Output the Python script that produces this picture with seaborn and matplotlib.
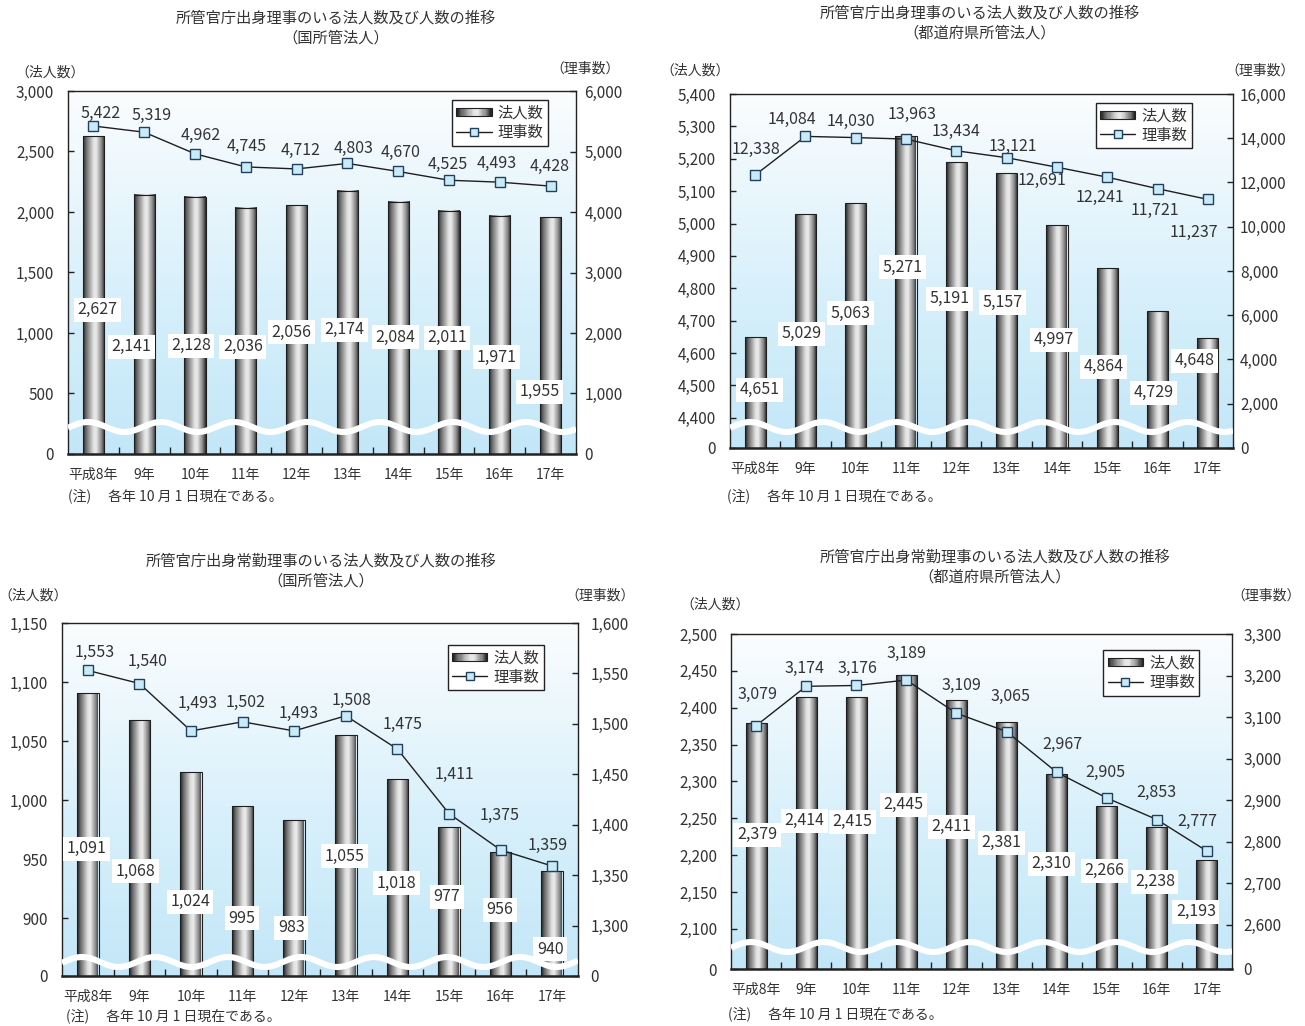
import numpy as np
import matplotlib
matplotlib.use("Agg")
import matplotlib.pyplot as plt
import seaborn as sns
from matplotlib.legend_handler import HandlerBase
from matplotlib.patches import Rectangle
from matplotlib.lines import Line2D
from matplotlib.colors import LinearSegmentedColormap
from matplotlib.ticker import FixedLocator, FuncFormatter

# ---------------- data ----------------
years = ['平成8年', '9年', '10年', '11年', '12年', '13年', '14年', '15年', '16年', '17年']

corp_national = [2627, 2141, 2128, 2036, 2056, 2174, 2084, 2011, 1971, 1955]
dir_national = [5422, 5319, 4962, 4745, 4712, 4803, 4670, 4525, 4493, 4428]

corp_pref = [4651, 5029, 5063, 5271, 5191, 5157, 4997, 4864, 4729, 4648]
dir_pref = [12338, 14084, 14030, 13963, 13434, 13121, 12691, 12241, 11721, 11237]

corp_national_ft = [1091, 1068, 1024, 995, 983, 1055, 1018, 977, 956, 940]
dir_national_ft = [1553, 1540, 1493, 1502, 1493, 1508, 1475, 1411, 1375, 1359]

corp_pref_ft = [2379, 2414, 2415, 2445, 2411, 2381, 2310, 2266, 2238, 2193]
dir_pref_ft = [3079, 3174, 3176, 3189, 3109, 3065, 2967, 2905, 2853, 2777]

left_ticks_1 = [0, 500, 1000, 1500, 2000, 2500, 3000]
right_ticks_1 = [0, 1000, 2000, 3000, 4000, 5000, 6000]
left_ticks_2 = [0, 4400, 4500, 4600, 4700, 4800, 4900, 5000, 5100, 5200, 5300, 5400]
right_ticks_2 = [0, 2000, 4000, 6000, 8000, 10000, 12000, 14000, 16000]
left_ticks_3 = [0, 900, 950, 1000, 1050, 1100, 1150]
right_ticks_3 = [0, 1300, 1350, 1400, 1450, 1500, 1550, 1600]
left_ticks_4 = [0, 2100, 2150, 2200, 2250, 2300, 2350, 2400, 2450, 2500]
right_ticks_4 = [0, 2600, 2700, 2800, 2900, 3000, 3100, 3200, 3300]

title_main_1 = '所管官庁出身理事のいる法人数及び人数の推移'
title_main_2 = '所管官庁出身常勤理事のいる法人数及び人数の推移'
sub_national = '（国所管法人）'
sub_pref = '（都道府県所管法人）'
legend_labels = ['法人数', '理事数']
note_text = '(注)　 各年 10 月 1 日現在である。'
unit_left = '（法人数）'
unit_right = '（理事数）'

# ---------------- style ----------------
sns.set_style('white')
plt.rcParams['font.family'] = ['Noto Sans CJK JP', 'DejaVu Sans']
TXT = '#333333'
W, H = 1305, 1026

bar_cmap = LinearSegmentedColormap.from_list(
    'bar', [(0, '#262626'), (0.14, '#6a6a6a'), (0.48, '#e2e2e2'), (0.6, '#eaeaea'),
            (0.85, '#868686'), (1, '#262626')])
bg_cmap = LinearSegmentedColormap.from_list(
    'bg', [(0, '#c3e7f8'), (0.45, '#d8f0fb'), (1, '#fbfdfe')])


class BarProxy:
    pass


class GradHandler(HandlerBase):
    def create_artists(self, legend, orig_handle, xdescent, ydescent, width,
                       height, fontsize, trans):
        n = 30
        h = height * 0.72
        y = -ydescent + (height - h) / 2
        arts = []
        for k in range(n):
            arts.append(Rectangle((-xdescent + k * width / n, y), width / n * 1.05, h,
                                  facecolor=bar_cmap(k / (n - 1)), edgecolor='none',
                                  transform=trans))
        arts.append(Rectangle((-xdescent, y), width, h, fill=False, edgecolor='#222',
                              linewidth=0.8, transform=trans))
        return arts


def broken(lo, step, gap):
    base = lo - gap * step

    def fwd(v):
        v = np.asarray(v, dtype=float)
        return np.where(v >= lo, v, base + v / lo * (gap * step))

    def inv(f):
        f = np.asarray(f, dtype=float)
        return np.where(f >= lo, f, (f - base) / (gap * step) * lo)
    return fwd, inv


def px_rect(l, r, t, b):
    return [l / W, 1 - b / H, (r - l) / W, (b - t) / H]


fmt = FuncFormatter(lambda v, p: f'{v:,.0f}')

fig = plt.figure(figsize=(13.05, 10.26), dpi=100)


def panel(box, corp, dirs, lticks, rticks, lbrk, rbrk, bar_y, bar_dx, line_off,
          wave_px, leg_anchor, lpad, rpad):
    l, r, t, b = box
    ax = fig.add_axes(px_rect(l, r, t, b))
    ax2 = ax.twinx()
    n = len(years)
    wpx, hpx = r - l, b - t

    sns.barplot(x=years, y=corp, ax=ax, width=0.42, color='#999999',
                edgecolor='#1e1e1e', linewidth=0.8, errorbar=None)
    grad = np.linspace(0, 1, 256).reshape(1, -1)
    for p in list(ax.patches):
        x0, y0, w, h = p.get_x(), p.get_y(), p.get_width(), p.get_height()
        ax.imshow(grad, cmap=bar_cmap, extent=[x0, x0 + w, y0, y0 + h],
                  aspect='auto', interpolation='bilinear', zorder=2.5)
        p.set_facecolor('none')
        p.set_zorder(3)

    ax.imshow(np.linspace(0, 1, 256).reshape(-1, 1), cmap=bg_cmap, origin='lower',
              extent=[0, 1, 0, 1], transform=ax.transAxes, aspect='auto', zorder=0)

    sns.lineplot(x=np.arange(n), y=dirs, ax=ax2, color='#1e1e1e', linewidth=1.0,
                 marker='s', markersize=7, markerfacecolor='#c9ebf8',
                 markeredgecolor='#22405e', markeredgewidth=1.0, zorder=4)

    if lbrk is not None:
        ax.set_yscale('function', functions=broken(*lbrk))
    if rbrk is not None:
        ax2.set_yscale('function', functions=broken(*rbrk))
    ax.set_ylim(0, max(lticks))
    ax2.set_ylim(0, max(rticks))
    ax.yaxis.set_major_locator(FixedLocator(lticks))
    ax.yaxis.set_major_formatter(fmt)
    ax2.yaxis.set_major_locator(FixedLocator(rticks))
    ax2.yaxis.set_major_formatter(fmt)
    ax.set_xlim(-0.5, n - 0.5)
    ax.set_xlabel('')
    ax.set_ylabel('')
    ax2.set_ylabel('')

    ax.set_xticks(np.arange(0.5, n - 1, 1), minor=True)
    ax.tick_params(axis='x', which='major', length=0, pad=10, labelsize=10, labelcolor=TXT)
    ax.tick_params(axis='x', which='minor', direction='in', length=5, width=1, color='#222',
                   bottom=True)
    ax.tick_params(axis='y', direction='in', length=4, width=1, color='#222', labelsize=11,
                   labelcolor=TXT, pad=lpad, left=True)
    ax2.tick_params(axis='y', direction='in', length=4, width=1, color='#222', labelsize=11,
                    labelcolor=TXT, pad=rpad, right=True)

    for s in ax.spines.values():
        s.set_visible(True)
        s.set_color('#222')
        s.set_linewidth(1.0)
    ax.spines['bottom'].set_linewidth(1.8)
    for s in ax2.spines.values():
        s.set_visible(False)

    # decorative break wave
    xs = np.linspace(0, wpx, 800)
    ys = wave_px + 5 * np.cos(2 * np.pi * (xs - 20) / 73)
    ax.plot(xs / wpx, ys / hpx, transform=ax.transAxes, color='white', lw=4.4,
            zorder=5, solid_capstyle='butt')

    for i, (v, fy, dx) in enumerate(zip(corp, bar_y, bar_dx)):
        ax.annotate(f'{v:,}', xy=(i, fy), xycoords=('data', 'axes fraction'),
                    xytext=(dx, 0), textcoords='offset pixels', ha='center', va='center',
                    fontsize=11.5, color=TXT, zorder=7,
                    bbox=dict(boxstyle='square,pad=0.22', fc='white', ec='none'))
    for i, (v, (dx, dy)) in enumerate(zip(dirs, line_off)):
        ax2.annotate(f'{v:,}', xy=(i, v), xytext=(dx, dy), textcoords='offset pixels',
                     ha='center', va='center', fontsize=11.5, color=TXT, zorder=7)

    handles = [BarProxy(),
               Line2D([], [], color='#1e1e1e', lw=1, marker='s', markersize=6,
                      markerfacecolor='#c9ebf8', markeredgecolor='#22405e')]
    leg = ax2.legend(handles, legend_labels, handler_map={BarProxy: GradHandler()},
                     loc='upper right', bbox_to_anchor=leg_anchor, frameon=True,
                     fancybox=False, edgecolor='#222', framealpha=1, fontsize=11,
                     handlelength=2.3, handletextpad=0.4, borderpad=0.3,
                     labelspacing=0.15, borderaxespad=0)
    leg.get_frame().set_linewidth(1.0)
    leg.set_zorder(10)
    for tx in leg.get_texts():
        tx.set_color(TXT)
    return ax, ax2


# panel 1: national
panel((68, 576, 91, 454), corp_national, dir_national, left_ticks_1, right_ticks_1,
      None, None,
      [0.397, 0.295, 0.298, 0.295, 0.336, 0.342, 0.322, 0.320, 0.267, 0.171],
      [4, -13, -4, -3, -5, -3, -3, -2, -3, -11],
      [(7, 13), (7, 17), (6, 18), (1, 20), (4, 18), (6, 15), (2, 19), (-1, 16), (-3, 19), (-1, 20)],
      27, (0.945, 0.975), 10, 6)

# panel 2: prefectural
panel((730, 1233, 94, 448), corp_pref, dir_pref, left_ticks_2, right_ticks_2,
      (4400, 100, 0.93), None,
      [0.164, 0.323, 0.380, 0.510, 0.422, 0.411, 0.306, 0.229, 0.156, 0.246],
      [4, -4, -5, -4, -7, -4, -3, -4, -4, -13],
      [(1, 26), (-14, 17), (-5, 16), (6, 25), (0, 19), (6, 11), (-15, -13), (-7, -20), (-3, -22), (-14, -33)],
      21, (0.918, 0.975), 10, 5)

# panel 3: national full-time
panel((62, 578, 623, 976), corp_national_ft, dir_national_ft, left_ticks_3, right_ticks_3,
      (900, 50, 0.98), (1300, 50, 1.0),
      [0.360, 0.297, 0.210, 0.164, 0.136, 0.340, 0.263, 0.224, 0.187, 0.076],
      [-1, -4, -1, -1, -3, -1, -1, -2, -1, -2],
      [(7, 18), (8, 22), (7, 27), (3, 19), (4, 17), (6, 15), (5, 25), (5, 39), (-1, 34), (-5, 21)],
      14, (0.934, 0.938), 10, 9)

# panel 4: prefectural full-time
panel((731, 1232, 634, 969), corp_pref_ft, dir_pref_ft, left_ticks_4, right_ticks_4,
      (2100, 50, 1.09), (2600, 100, 1.07),
      [0.401, 0.443, 0.440, 0.491, 0.425, 0.377, 0.314, 0.293, 0.260, 0.171],
      [1, -2, -4, -3, -5, -5, -5, -2, -2, -11],
      [(1, 31), (-2, 18), (1, 17), (0, 27), (5, 28), (4, 35), (6, 28), (-1, 26), (0, 27), (-10, 30)],
      22, (0.935, 0.952), 10, 8)


def ftext(x, y, s, **kw):
    kw.setdefault('color', TXT)
    fig.text(x / W, 1 - y / H, s, va='center', **kw)


# titles
ftext(336, 18, title_main_1, ha='center', fontsize=11)
ftext(336, 38, sub_national, ha='center', fontsize=11)
ftext(980, 13, title_main_1, ha='center', fontsize=11)
ftext(980, 33, sub_pref, ha='center', fontsize=11)
ftext(321, 561, title_main_2, ha='center', fontsize=11)
ftext(321, 581, sub_national, ha='center', fontsize=11)
ftext(995, 557, title_main_2, ha='center', fontsize=11)
ftext(995, 577, sub_pref, ha='center', fontsize=11)

# unit labels
ftext(50, 73, unit_left, ha='center', fontsize=10)
ftext(585, 69, unit_right, ha='center', fontsize=10)
ftext(695, 71, unit_left, ha='center', fontsize=10)
ftext(1260, 71, unit_right, ha='center', fontsize=10)
ftext(33, 596, unit_left, ha='center', fontsize=10)
ftext(600, 596, unit_right, ha='center', fontsize=10)
ftext(715, 605, unit_left, ha='center', fontsize=10)
ftext(1266, 596, unit_right, ha='center', fontsize=10)

# notes
ftext(68, 496, note_text, ha='left', fontsize=10)
ftext(727, 496, note_text, ha='left', fontsize=10)
ftext(66, 1016, note_text, ha='left', fontsize=10)
ftext(728, 1014, note_text, ha='left', fontsize=10)

fig.savefig('out.png', dpi=100, facecolor='white')
